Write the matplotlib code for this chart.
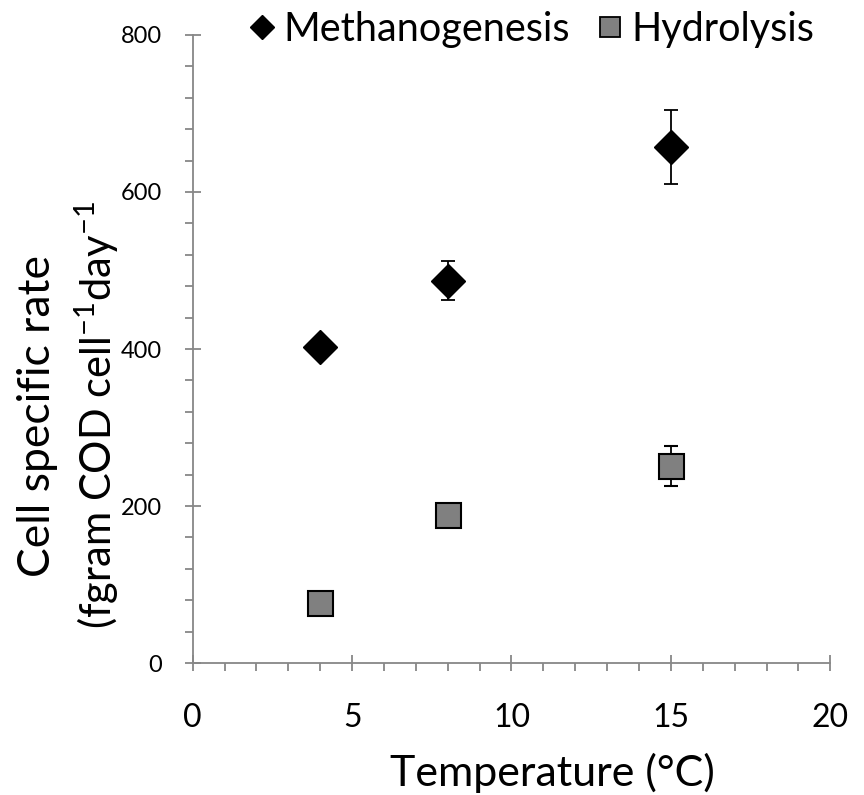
import numpy as np
import matplotlib
matplotlib.use('Agg')
from matplotlib import pyplot as plt
from matplotlib.ticker import MultipleLocator
from matplotlib.lines import Line2D

plt.rcParams['font.family'] = ['Lato', 'DejaVu Sans']
plt.rcParams['mathtext.fontset'] = 'custom'
plt.rcParams['mathtext.rm'] = 'Lato'
plt.rcParams['mathtext.it'] = 'Lato'

temps = [4, 8, 15]
meth = [402, 487, 657]
meth_err = [12, 25, 47]
hydro = [77, 188, 251]
hydro_err = [8, 8, 25]

fig = plt.figure(figsize=(8.64, 7.95), dpi=100)
ax = fig.add_axes([0.223, 0.166, 0.738, 0.790])

ax.errorbar(temps, meth, yerr=meth_err, fmt='D', color='black', ms=17,
            ecolor='black', elinewidth=1.3, capsize=5, capthick=1.3,
            label='Methanogenesis', zorder=3)
ax.errorbar(temps, hydro, yerr=hydro_err, fmt='s', mfc='#808080', mec='black',
            mew=1.5, ms=18, ecolor='black', elinewidth=1.3, capsize=5,
            capthick=1.3, label='Hydrolysis', zorder=3)

ax.set_xlim(0, 20)
ax.set_ylim(0, 800)
ax.xaxis.set_major_locator(MultipleLocator(5))
ax.xaxis.set_minor_locator(MultipleLocator(1))
ax.yaxis.set_major_locator(MultipleLocator(200))
ax.yaxis.set_minor_locator(MultipleLocator(40))

for s in ['top', 'right']:
    ax.spines[s].set_visible(False)
for s in ['left', 'bottom']:
    ax.spines[s].set_color('#878787')
    ax.spines[s].set_linewidth(1.3)

ax.tick_params(axis='both', which='major', direction='inout', length=12,
               width=1.3, color='#878787')
ax.tick_params(axis='both', which='minor', direction='out', length=6,
               width=1.3, color='#878787')
ax.tick_params(axis='x', which='major', labelsize=23, pad=23)
ax.tick_params(axis='y', which='major', labelsize=17, pad=16)

ax.set_xlabel('Temperature (°C)', fontsize=31)
ax.xaxis.label.set_va('baseline')
ax.xaxis.set_label_coords(0.564, -(786 - 663) / 628)

fig.text(0.043, 0.477, 'Cell specific rate', fontsize=32, rotation=90,
         ha='center', va='center')
fig.text(0.112, 0.478, '(fgram COD cell$^{-1}$day$^{-1}$', fontsize=30,
         rotation=90, ha='center', va='center')

# legend handles sized like the reference
handles = [
    Line2D([], [], ls='none', marker='D', color='black', ms=12),
    Line2D([], [], ls='none', marker='s', mfc='#808080', mec='black',
           mew=1.3, ms=15),
]
labels = ['Methanogenesis', 'Hydrolysis']
ax.legend(handles, labels, loc='upper center', bbox_to_anchor=(0.526, 1.095),
          ncol=2, frameon=False, fontsize=28.5, handletextpad=0.05,
          columnspacing=0.5, handlelength=1.0)

fig.savefig('out.png', dpi=100)
